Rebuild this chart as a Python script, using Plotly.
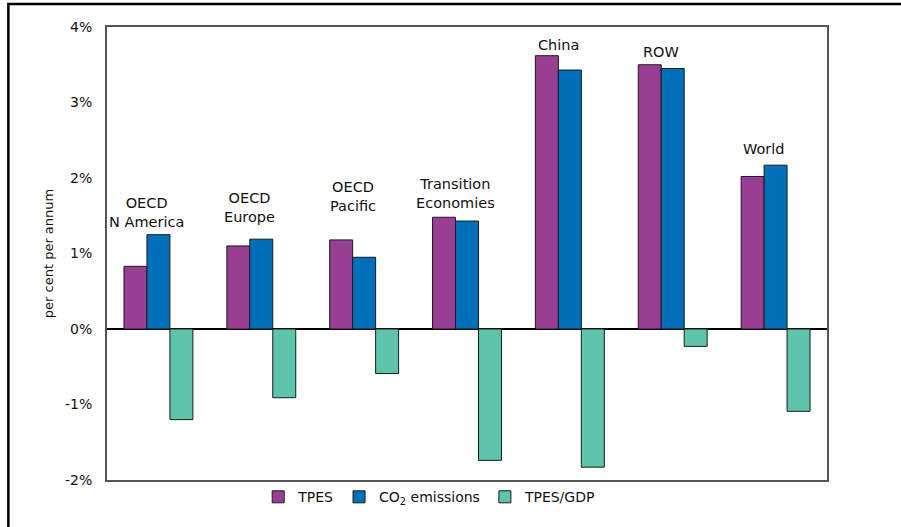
import plotly.graph_objects as go

regions = ["OECD<br>N America", "OECD<br>Europe", "OECD<br>Pacific",
           "Transition<br>Economies", "China", "ROW", "World"]
tpes = [0.83, 1.10, 1.18, 1.48, 3.62, 3.50, 2.02]
co2 = [1.25, 1.19, 0.95, 1.43, 3.43, 3.45, 2.17]
tpes_gdp = [-1.20, -0.91, -0.59, -1.74, -1.83, -0.23, -1.09]
series_names = ["TPES", "CO<sub>2</sub> emissions", "TPES/GDP"]
tick_vals = [-2, -1, 0, 1, 2, 3, 4]
tick_text = ["-2%", "-1%", "0%", "1%", "2%", "3%", "4%"]

# label pixel gaps above the tallest bar of each group
label_gap = [3, 12, 24, 4, 1, 3, 6]

colors = ["#983F93", "#0070BA", "#5EC5AD"]
FONT = "'DejaVu Sans', sans-serif"

x = list(range(len(regions)))
fig = go.Figure()
for name, vals, c in zip(series_names, [tpes, co2, tpes_gdp], colors):
    fig.add_trace(go.Bar(x=x, y=vals, name=name,
                         marker=dict(color=c, line=dict(color="#1a1a1a", width=1))))

for i, lab in enumerate(regions):
    fig.add_annotation(x=i, y=max(tpes[i], co2[i]), xref="x", yref="y",
                       text=lab, showarrow=False, xanchor="center", yanchor="bottom",
                       xshift=-11.5, yshift=label_gap[i],
                       font=dict(family=FONT, size=14.5, color="#111"))

# outer frame (only left/top visible in picture)
fig.add_shape(type="rect", xref="paper", yref="paper",
              x0=-0.137, x1=1.2, y0=-0.2, y1=1.051,
              line=dict(color="black", width=2.5), layer="above")

fig.update_layout(
    width=901, height=527,
    margin=dict(l=107, r=74, t=27, b=47, autoexpand=False),
    plot_bgcolor="white", paper_bgcolor="white",
    barmode="group", bargap=0.33, bargroupgap=0,
    font=dict(family=FONT, size=14, color="#111"),
    showlegend=True,
    legend=dict(orientation="h", x=0.21, xanchor="left", y=-0.038, yanchor="middle",
                font=dict(family=FONT, size=14), itemwidth=30,
                bgcolor="rgba(0,0,0,0)"),
)
fig.update_xaxes(range=[-0.5, len(regions) - 0.5], showticklabels=False, ticks="",
                 showline=True, mirror=True, linecolor="#555", linewidth=2,
                 showgrid=False, zeroline=False)
fig.update_yaxes(range=[-2, 4], tickvals=tick_vals, ticktext=tick_text, ticks="",
                 ticklabelstandoff=10, automargin=False,
                 showline=True, mirror=True, linecolor="#555", linewidth=2,
                 showgrid=False, zeroline=True, zerolinecolor="black", zerolinewidth=1.5,
                 title=dict(text="per cent per annum", font=dict(family=FONT, size=13), standoff=8),
                 tickfont=dict(family=FONT, size=14))

fig.write_html("out.html", config={"displayModeBar": False},
               post_script="document.body.style.margin='0';document.body.style.overflow='hidden';")
